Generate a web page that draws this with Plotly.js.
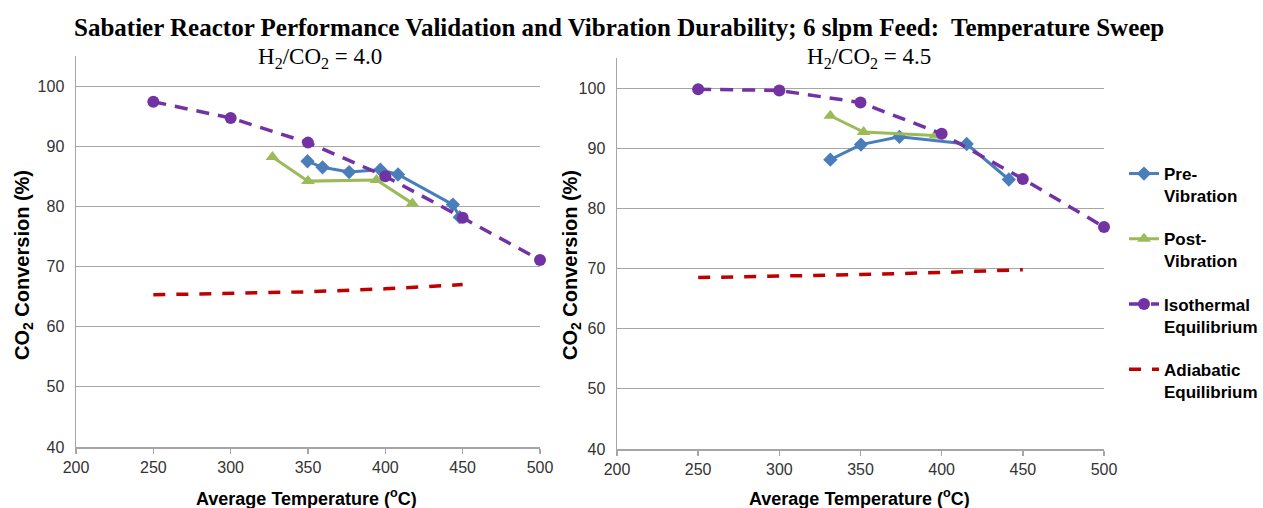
<!DOCTYPE html>
<html>
<head>
<meta charset="utf-8">
<script src="https://cdn.plot.ly/plotly-3.0.1.min.js"></script>
<style>html,body{margin:0;padding:0;background:#fff;}#chart{width:1263px;height:508px;}</style>
</head>
<body>
<div id="chart"></div>
<script>
// ---- Data: H2/CO2 = 4.0 (left panel) ----
const preT_40 = [349.7, 359.4, 376.6, 396.8, 408.2, 443.7, 448.1];
const preV_40 = [87.5, 86.5, 85.7, 86.1, 85.3, 80.3, 78.2];
const postT_40 = [327, 350, 394.3, 417.5];
const postV_40 = [88.2, 84.2, 84.4, 80.5];
const isoT_40 = [250, 300, 350, 400, 450, 500];
const isoV_40 = [97.4, 94.7, 90.6, 85.0, 78.1, 71.1];
const adiT_40 = [250, 300, 350, 400, 450];
const adiV_40 = [65.3, 65.5, 65.8, 66.3, 67.0];

// ---- Data: H2/CO2 = 4.5 (right panel) ----
const preT_45 = [331.4, 350.3, 374.0, 415.4, 441.4];
const preV_45 = [88.1, 90.6, 91.9, 90.7, 84.8];
const postT_45 = [331.4, 351.9, 396.0];
const postV_45 = [95.4, 92.7, 92.1];
const isoT_45 = [250, 300, 350, 400, 450, 500];
const isoV_45 = [99.8, 99.6, 97.6, 92.4, 84.9, 76.9];
const adiT_45 = [250, 300, 350, 400, 450];
const adiV_45 = [68.5, 68.7, 69.0, 69.35, 69.8];

const seriesNames = ['Pre-<br>Vibration', 'Post-<br>Vibration', 'Isothermal<br>Equilibrium', 'Adiabatic<br>Equilibrium'];
const xTicks = [200, 250, 300, 350, 400, 450, 500];
const yTicks = [40, 50, 60, 70, 80, 90, 100];

const BLUE = '#4A7EBB', GREEN = '#9BBB59', PURPLE = '#7232A4', RED = '#C00000';

function makeSet(xa, ya, pre, post, iso, adi, show) {
  return [
    {x: pre[0], y: pre[1], xaxis: xa, yaxis: ya, mode: 'lines+markers', name: seriesNames[0],
     legendgroup: 'a', showlegend: show, cliponaxis: false,
     line: {color: BLUE, width: 3}, marker: {symbol: 'diamond', size: 11, color: BLUE}},
    {x: post[0], y: post[1], xaxis: xa, yaxis: ya, mode: 'lines+markers', name: seriesNames[1],
     legendgroup: 'b', showlegend: show, cliponaxis: false,
     line: {color: GREEN, width: 3}, marker: {symbol: 'triangle-up', size: 12, color: GREEN}},
    {x: iso[0], y: iso[1], xaxis: xa, yaxis: ya, mode: 'lines+markers', name: seriesNames[2],
     legendgroup: 'c', showlegend: show, cliponaxis: false,
     line: {color: PURPLE, width: 3.5, dash: '13px,9px'}, marker: {symbol: 'circle', size: 12, color: PURPLE}},
    {x: adi[0], y: adi[1], xaxis: xa, yaxis: ya, mode: 'lines', name: seriesNames[3],
     legendgroup: 'd', showlegend: show, cliponaxis: false,
     line: {color: RED, width: 3.5, dash: '12px,11px'}}
  ];
}

const traces = [].concat(
  makeSet('x', 'y', [preT_40, preV_40], [postT_40, postV_40], [isoT_40, isoV_40], [adiT_40, adiV_40], true),
  makeSet('x2', 'y2', [preT_45, preV_45], [postT_45, postV_45], [isoT_45, isoV_45], [adiT_45, adiV_45], false)
);

const W = 1263, H = 508;
const tickFont = {family: 'Arial, Liberation Sans, sans-serif', size: 16, color: '#333'};
function xAxis(x0, x1, anchor) {
  return {domain: [x0 / W, x1 / W], anchor: anchor, range: [200, 500], tickvals: xTicks,
    showline: true, linecolor: '#a6a6a6', linewidth: 1.5, ticks: 'outside', ticklen: 5,
    tickcolor: '#a6a6a6', tickwidth: 1.5, showgrid: false, zeroline: false, tickfont: tickFont};
}
function yAxis(top, bottom, anchor) {
  return {domain: [1 - bottom / H, 1 - top / H], anchor: anchor, range: [40, 105], tickvals: yTicks,
    showline: true, linecolor: '#a6a6a6', linewidth: 1.5, ticks: '', showgrid: true,
    gridcolor: '#a6a6a6', gridwidth: 1, zeroline: false, tickfont: tickFont, ticklabelstandoff: 7};
}

const xTitleFont = {family: 'Arial, Liberation Sans, sans-serif', size: 18, color: '#000'};
const yTitleFont = {family: 'Arial, Liberation Sans, sans-serif', size: 20, color: '#000'};
const serif = 'Times New Roman, Liberation Serif, serif';

const layout = {
  width: W, height: H,
  margin: {l: 0, r: 0, t: 0, b: 0},
  paper_bgcolor: '#fff', plot_bgcolor: '#fff',
  xaxis: xAxis(76, 540, 'y'),
  yaxis: yAxis(56, 447, 'x'),
  xaxis2: xAxis(617, 1104, 'y2'),
  yaxis2: yAxis(58, 449, 'x2'),
  showlegend: true,
  legend: {x: 1124 / W, y: 1 - 156 / H, xanchor: 'left', yanchor: 'top', traceorder: 'grouped',
    tracegroupgap: 18, valign: 'top', bgcolor: 'rgba(0,0,0,0)',
    font: {family: 'Arial, Liberation Sans, sans-serif', size: 17, color: '#000', weight: 'bold'}},
  annotations: [
    {text: '<b>Sabatier Reactor Performance Validation and Vibration Durability; 6 slpm Feed:  Temperature Sweep</b>',
     xref: 'paper', yref: 'paper', x: 619 / W, y: 1 - 27 / H, xanchor: 'center', yanchor: 'middle',
     showarrow: false, font: {family: serif, size: 25, color: '#000'}},
    {text: 'H<sub>2</sub>/CO<sub>2</sub> = 4.0', xref: 'paper', yref: 'paper', x: 320 / W, y: 1 - 58 / H,
     xanchor: 'center', yanchor: 'middle', showarrow: false, font: {family: serif, size: 23, color: '#000'}},
    {text: 'H<sub>2</sub>/CO<sub>2</sub> = 4.5', xref: 'paper', yref: 'paper', x: 869 / W, y: 1 - 58 / H,
     xanchor: 'center', yanchor: 'middle', showarrow: false, font: {family: serif, size: 23, color: '#000'}},
    {text: '<b>Average Temperature (<sup>o</sup>C)</b>', xref: 'paper', yref: 'paper', x: 306 / W, y: 1 - 497 / H,
     xanchor: 'center', yanchor: 'middle', showarrow: false, font: xTitleFont},
    {text: '<b>Average Temperature (<sup>o</sup>C)</b>', xref: 'paper', yref: 'paper', x: 859 / W, y: 1 - 497 / H,
     xanchor: 'center', yanchor: 'middle', showarrow: false, font: xTitleFont},
    {text: '<b>CO<sub>2</sub> Conversion (%)</b>', xref: 'paper', yref: 'paper', x: 23 / W, y: 1 - 265 / H,
     xanchor: 'center', yanchor: 'middle', textangle: -90, showarrow: false, font: yTitleFont},
    {text: '<b>CO<sub>2</sub> Conversion (%)</b>', xref: 'paper', yref: 'paper', x: 571 / W, y: 1 - 265 / H,
     xanchor: 'center', yanchor: 'middle', textangle: -90, showarrow: false, font: yTitleFont}
  ]
};

Plotly.newPlot('chart', traces, layout, {displayModeBar: false, staticPlot: true});
</script>
</body>
</html>
